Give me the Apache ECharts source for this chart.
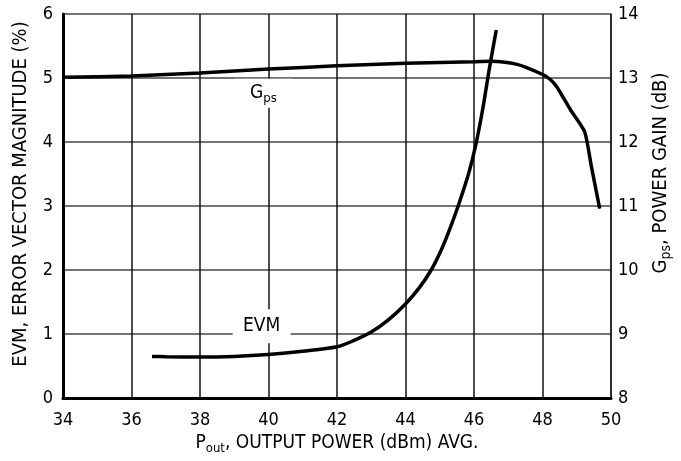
<!DOCTYPE html>
<html>
<head>
<meta charset="utf-8">
<script src="https://cdn.jsdelivr.net/npm/echarts@6/dist/echarts.min.js"></script>
<style>
html,body{margin:0;padding:0;background:#fff;}
#chart{width:681px;height:461px;}
</style>
</head>
<body>
<div id="chart"></div>
<script>
// Data
const evmData = [[36.6,0.65],[37,0.645],[38,0.64],[39,0.65],[40,0.68],[41,0.73],[42,0.80],[42.5,0.9],[43,1.03],[43.5,1.22],[44,1.47],[44.4,1.72],[44.75,2.0],[45.05,2.32],[45.3,2.65],[45.55,3.02],[45.85,3.52],[46.05,3.95],[46.25,4.5],[46.45,5.15],[46.65,5.75]];
const gpsData = [[34,13.01],[36,13.03],[38,13.08],[40,13.14],[42,13.19],[44,13.23],[46,13.255],[46.5,13.26],[46.9,13.245],[47.2,13.22],[47.5,13.17],[48.02,13.05],[48.22,12.98],[48.42,12.86],[48.82,12.5],[49.23,12.16],[49.43,11.61],[49.67,10.96]];
const xRange = [34, 50, 2];
const evmRange = [0, 6, 1];
const gpsRange = [8, 14, 1];
const gpsLabelAt = [39.85, 12.76];
const evmLabelAt = [39.8, 1.12];

const FONT = '"DejaVu Sans Condensed","Liberation Sans Narrow",sans-serif';
const chart = echarts.init(document.getElementById('chart'));
const tickFont = {color:'#000', fontFamily:FONT, fontSize:18};
const xRich = {
  n:{fontFamily:FONT, fontSize:19, color:'#000'},
  s:{fontFamily:FONT, fontSize:13, color:'#000', padding:[10,0,0,0]}
};
const yRich = {
  n:{fontFamily:FONT, fontSize:20, color:'#000'},
  s:{fontFamily:FONT, fontSize:14, color:'#000', padding:[10,0,0,0]}
};
chart.setOption({
  animation:false,
  backgroundColor:'#fff',
  grid:{left:63, right:69, top:14, bottom:63},
  xAxis:{
    type:'value', min:xRange[0], max:xRange[1], interval:xRange[2],
    axisLine:{lineStyle:{color:'#000', width:3}},
    axisTick:{show:false},
    axisLabel:Object.assign({margin:13}, tickFont),
    splitLine:{lineStyle:{color:'#111', width:1.5}},
    name:'{n|P}{s|out}{n|, OUTPUT POWER (dBm) AVG.}',
    nameLocation:'middle', nameGap:34,
    nameTextStyle:{rich:xRich}
  },
  yAxis:[{
    type:'value', min:evmRange[0], max:evmRange[1], interval:evmRange[2],
    axisLine:{show:true, lineStyle:{color:'#000', width:3}},
    axisTick:{show:false},
    axisLabel:Object.assign({margin:10}, tickFont),
    splitLine:{lineStyle:{color:'#444', width:1.5}},
    name:'EVM, ERROR VECTOR MAGNITUDE (%)',
    nameLocation:'middle', nameGap:32,
    nameTextStyle:{fontFamily:FONT, fontSize:20, color:'#000', padding:[0,0,0,24]}
  },{
    type:'value', min:gpsRange[0], max:gpsRange[1], interval:gpsRange[2], position:'right',
    axisLine:{show:true, lineStyle:{color:'#222', width:1.5}},
    axisTick:{show:false},
    axisLabel:Object.assign({margin:7}, tickFont),
    splitLine:{show:false},
    name:'{n|G}{s|ps}{n|, POWER GAIN (dB)}',
    nameLocation:'middle', nameGap:38,
    nameTextStyle:{rich:yRich, padding:[0,0,0,66]}
  }],
  series:[{
    name:'EVM', type:'line', yAxisIndex:0, data:evmData, showSymbol:false, smooth:0.3,
    lineStyle:{color:'#000', width:3.5},
    markPoint:{
      symbol:'rect', symbolSize:[58,34], itemStyle:{color:'#fff'},
      data:[{coord:evmLabelAt, value:'EVM'}],
      label:{show:true, position:'inside', formatter:'EVM', fontFamily:FONT, fontSize:19, color:'#000'}
    }
  },{
    name:'Gps', type:'line', yAxisIndex:1, data:gpsData, showSymbol:false, smooth:0.2,
    lineStyle:{color:'#000', width:3.5},
    markPoint:{
      symbol:'rect', symbolSize:[58,29], itemStyle:{color:'#fff'},
      data:[{coord:gpsLabelAt, value:'Gps'}],
      label:{show:true, position:'inside', formatter:'{n|G}{s|ps}',
        rich:{n:{fontFamily:FONT, fontSize:19, color:'#000'}, s:{fontFamily:FONT, fontSize:13, color:'#000', padding:[10,0,0,0]}}}
    }
  }]
});
</script>
</body>
</html>
